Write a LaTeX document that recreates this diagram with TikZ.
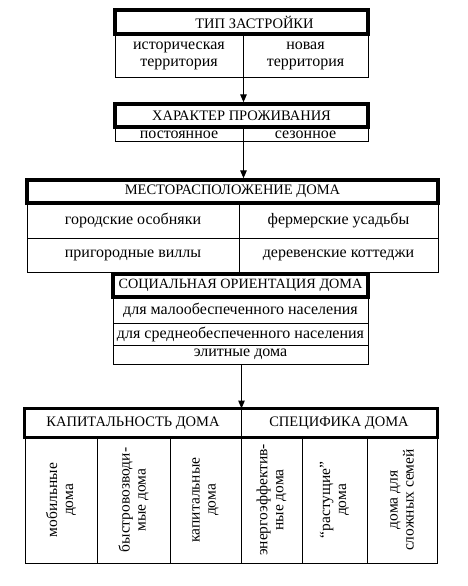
\documentclass[tikz,border=0pt]{standalone}
\usepackage{fontspec}
\setmainfont{Liberation Serif}
\usetikzlibrary{arrows.meta}
\newcommand\mkcell[7][]{%
  \pgfmathsetmacro\cx{(#3+#5)/2}\pgfmathsetmacro\cy{-(#4+#6)/2}%
  \pgfmathsetmacro\cw{#5-#3}\pgfmathsetmacro\ch{#6-#4}%
  \node[cell,#1,minimum width=\cw pt,minimum height=\ch pt] (#2) at (\cx,\cy) {#7};}
\newcommand\mkvcell[6]{%
  \pgfmathsetmacro\cx{(#2+#4)/2}\pgfmathsetmacro\cy{-(#3+#5)/2}%
  \pgfmathsetmacro\cw{#4-#2}\pgfmathsetmacro\ch{#5-#3}%
  \node[cell,vfont,align=center,rotate=90,minimum width=\ch pt,minimum height=\cw pt] (#1) at (\cx,\cy) {#6};}
\begin{document}
\begin{tikzpicture}[x=1pt,y=1pt,
  cell/.style={draw, line width=1pt, inner sep=0pt, font=\fontsize{16}{17}\selectfont},
  hfont/.style={font=\fontsize{14.5}{16}\selectfont},
  vfont/.style={font=\fontsize{15.5}{16}\selectfont},
  head/.style={cell, hfont, line width=3.4pt},
  lowtext/.style={text height=9.6pt, text depth=0pt},
  arr/.style={line width=1.2pt, -{Triangle[width=6.5pt,length=8pt]}}]
\useasboundingbox (0,0) rectangle (467,-586);
% box 1
\mkcell[align=center]{t1l}{115}{34}{243}{77}{историческая\\территория}
\mkcell[align=center]{t1r}{243}{34}{368}{77}{новая\\территория}
\mkcell[head]{t1}{115}{10}{368}{34}{\hspace*{26pt}ТИП ЗАСТРОЙКИ}
% box 2
\mkcell[lowtext]{t2l}{115}{127}{243}{141}{постоянное}
\mkcell[lowtext]{t2r}{243}{127}{368}{141}{сезонное}
\mkcell[head]{t2}{115}{104}{368}{127}{ХАРАКТЕР ПРОЖИВАНИЯ}
% box 3
\mkcell{m1}{27}{203}{239}{238}{городские особняки}
\mkcell{m2}{239}{203}{438}{238}{фермерские усадьбы}
\mkcell{m3}{27}{238}{239}{272}{пригородные виллы}
\mkcell{m4}{239}{238}{438}{272}{деревенские коттеджи}
\mkcell[head]{m}{27}{180}{438}{203}{МЕСТОРАСПОЛОЖЕНИЕ ДОМА}
% box 4
\mkcell{s1}{113}{297}{368}{323}{для малообеспеченного населения}
\mkcell{s2}{113}{323}{368}{345}{для среднеобеспеченного населения}
\mkcell{s3}{113}{345}{368}{364}{элитные дома}
\mkcell[head,font=\fontsize{14.2}{16}\selectfont]{s}{113}{274}{368}{297}{СОЦИАЛЬНАЯ ОРИЕНТАЦИЯ ДОМА}
% box 5
\mkvcell{v1}{25}{437}{97}{563}{мобильные\\дома}
\mkvcell{v2}{97}{437}{170}{563}{быстровозводи-\\мые дома}
\mkvcell{v3}{170}{437}{241}{563}{капитальные\\дома}
\mkvcell{v4}{241}{437}{302}{563}{энергоэффектив-\\ные дома}
\mkvcell{v5}{302}{437}{367}{563}{“растущие”\\дома}
\mkvcell{v6}{367}{437}{437}{563}{дома для\\сложных семей}
\mkcell[hfont]{k}{25}{409}{241}{437}{КАПИТАЛЬНОСТЬ ДОМА}
\mkcell[hfont]{sp}{241}{409}{437}{437}{СПЕЦИФИКА ДОМА}
\draw[line width=3.4pt] (k.north west) rectangle (sp.south east);
% connectors
\draw[arr] (t1l.south east) -- (t2.north -| t1l.south east);
\draw[arr] (t2l.south east) -- (m.north -| t2l.south east);
\draw[arr] (k.north east |- s3.south) -- (k.north east);
\end{tikzpicture}
\end{document}
